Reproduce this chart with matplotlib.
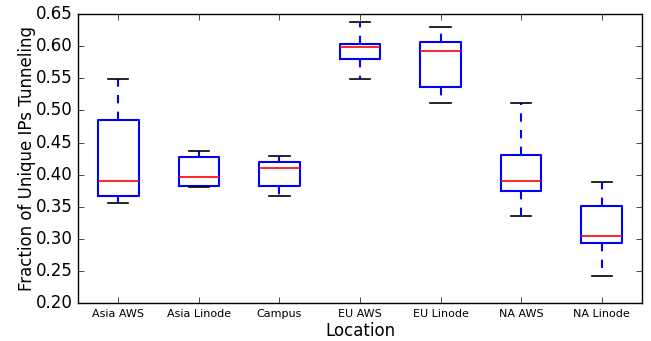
import matplotlib
matplotlib.use("Agg")
import matplotlib.pyplot as plt

plt.style.use("classic")

locations = ["Asia AWS", "Asia Linode", "Campus", "EU AWS", "EU Linode", "NA AWS", "NA Linode"]
whisker_low = [0.356, 0.381, 0.367, 0.549, 0.512, 0.336, 0.242]
q1 = [0.366, 0.383, 0.383, 0.580, 0.537, 0.375, 0.294]
medians = [0.390, 0.396, 0.410, 0.598, 0.592, 0.390, 0.305]
q3 = [0.485, 0.428, 0.420, 0.604, 0.606, 0.431, 0.351]
whisker_high = [0.549, 0.437, 0.429, 0.638, 0.630, 0.511, 0.389]

stats = []
for i, name in enumerate(locations):
    stats.append({"label": name, "whislo": whisker_low[i], "q1": q1[i], "med": medians[i],
                  "q3": q3[i], "whishi": whisker_high[i], "fliers": []})

fig = plt.figure(figsize=(6.51, 3.41), dpi=100)
fig.patch.set_facecolor("white")
ax = fig.add_axes([0.12, 0.111, 0.866, 0.848])

ax.bxp(stats, widths=0.5, showfliers=False,
       boxprops=dict(color="blue", linewidth=1.5),
       whiskerprops=dict(color="blue", linestyle="--", linewidth=1.5),
       capprops=dict(color="black", linewidth=1.2),
       medianprops=dict(color="red", linewidth=1.2))

ax.set_ylim(0.20, 0.65)
ax.set_yticks([0.20, 0.25, 0.30, 0.35, 0.40, 0.45, 0.50, 0.55, 0.60, 0.65])
ax.tick_params(axis="x", labelsize=8)
ax.tick_params(axis="y", labelsize=12)
ax.set_xlabel("Location", fontsize=12, labelpad=2.5)
ax.set_ylabel("Fraction of Unique IPs Tunneling", fontsize=12, labelpad=0)

fig.savefig("out.png", dpi=100, facecolor="white")
